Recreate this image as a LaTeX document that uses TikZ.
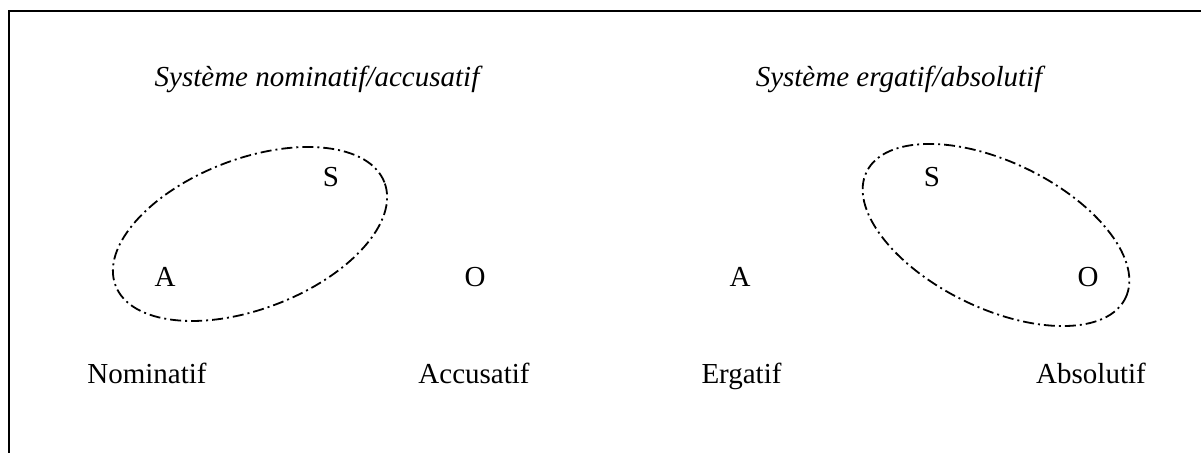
\documentclass[tikz,border=0pt]{standalone}
\usepackage{fontspec}
\setmainfont{Liberation Serif}
\usetikzlibrary{shapes}

\begin{document}
\begin{tikzpicture}[font=\fontsize{14.5bp}{17bp}\selectfont,
	every node/.style={anchor=base},
	grp/.style={draw, line width=0.9bp, dash pattern=on 5.5bp off 2bp on 1bp off 2bp},
	title/.style={font=\fontsize{14.5bp}{17bp}\selectfont\itshape}]
	\useasboundingbox (0bp,0bp) rectangle (600.5bp,226.5bp);
	\draw [line width=1.3bp] (4.4bp,0bp) -- (4.4bp,221bp) -- (600.5bp,221bp);

	% nominatif/accusatif
	\node (t1) at (158.5bp,183bp) [title] {Système nominatif/accusatif};
	\node (s1) at (165.5bp,133bp) {S};
	\node (a1) at (82.5bp,83bp)   {A};
	\node (o1) at (237.5bp,83bp)  {O};
	\node (nom) at (73.5bp,35bp)  {Nominatif};
	\node (acc) at (237bp,35bp)   {Accusatif};
	\draw [grp, rotate around={21:(125bp,109.5bp)}] (125bp,109.5bp) ellipse (72bp and 37.5bp);

	% ergatif/absolutif
	\node (t2) at (449.5bp,183bp) [title] {Système ergatif/absolutif};
	\node (a2) at (370bp,83bp)    {A};
	\node (s2) at (466bp,133bp)   {S};
	\node (o2) at (544bp,83bp)    {O};
	\node (erg) at (370.75bp,35bp) {Ergatif};
	\node (abs) at (545.5bp,35bp) {Absolutif};
	\draw [grp, rotate around={-26:(498bp,109bp)}] (498bp,109bp) ellipse (72bp and 36.5bp);
\end{tikzpicture}
\end{document}
